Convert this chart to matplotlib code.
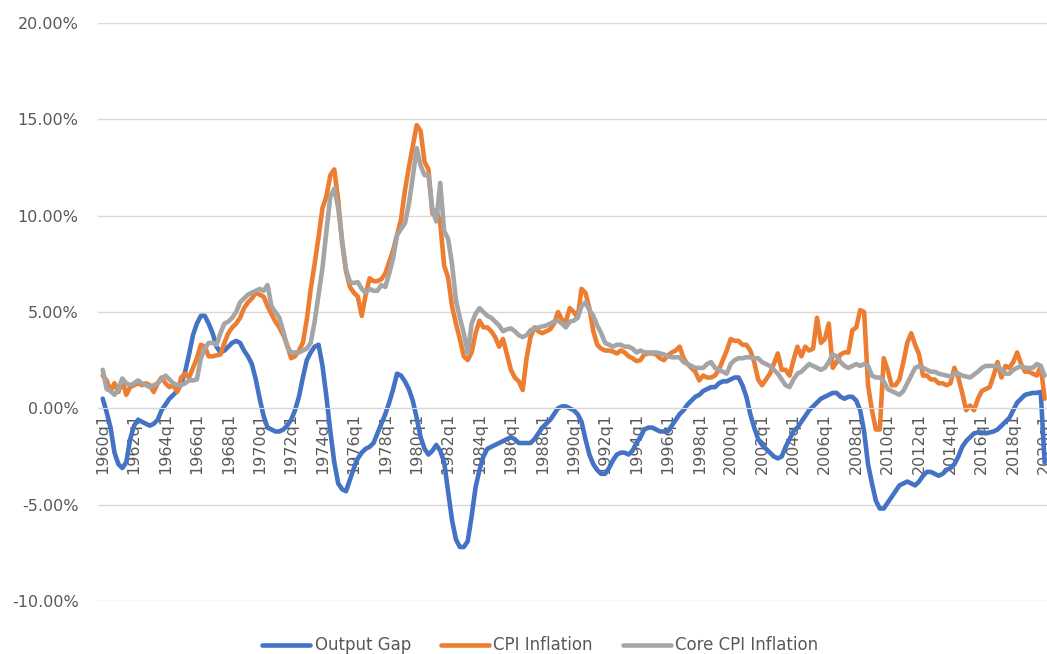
import numpy as np
import matplotlib.pyplot as plt
from matplotlib.ticker import FuncFormatter

# quarterly data, 1960q1 .. 2020q1 (percent)
output_gap = [
    0.5, -0.2, -1.0, -2.3,   -2.9, -3.1, -2.8, -1.6,   -0.9, -0.6, -0.7, -0.8,
    -0.9, -0.8, -0.6, -0.1,   0.2, 0.5, 0.7, 0.9,   1.3, 1.9, 2.8, 3.8,
    4.4, 4.8, 4.8, 4.4,   3.9, 3.2, 2.9, 3.0,   3.2, 3.4, 3.5, 3.4,
    3.0, 2.7, 2.3, 1.5,   0.5, -0.4, -1.0, -1.1,   -1.2, -1.2, -1.1, -0.9,
    -0.6, -0.1, 0.6, 1.6,   2.5, 2.9, 3.2, 3.3,   2.2, 0.6, -1.2, -2.8,
    -3.9, -4.2, -4.3, -3.7,   -3.1, -2.6, -2.3, -2.1,   -2.0, -1.8, -1.3, -0.8,
    -0.3, 0.3, 1.0, 1.8,   1.7, 1.4, 1.0, 0.4,   -0.5, -1.5, -2.1, -2.4,
    -2.2, -1.9, -2.2, -2.8,   -4.3, -5.8, -6.8, -7.2,   -7.2, -6.9, -5.6, -4.1,
    -3.2, -2.5, -2.1, -2.0,   -1.9, -1.8, -1.7, -1.6,   -1.5, -1.6, -1.8, -1.8,
    -1.8, -1.8, -1.6, -1.3,   -1.0, -0.8, -0.6, -0.3,   0.0, 0.1, 0.1, 0.0,
    -0.1, -0.3, -0.7, -1.6,   -2.4, -2.9, -3.2, -3.4,   -3.4, -3.1, -2.7, -2.4,
    -2.3, -2.3, -2.4, -2.2,   -1.8, -1.5, -1.1, -1.0,   -1.0, -1.1, -1.2, -1.2,
    -1.2, -0.9, -0.6, -0.3,   -0.1, 0.2, 0.4, 0.6,   0.7, 0.9, 1.0, 1.1,
    1.1, 1.3, 1.4, 1.4,   1.5, 1.6, 1.6, 1.2,   0.6, -0.3, -1.0, -1.6,
    -1.9, -2.1, -2.3, -2.5,   -2.6, -2.5, -2.0, -1.6,   -1.2, -1.0, -0.7, -0.4,
    -0.1, 0.1, 0.3, 0.5,   0.6, 0.7, 0.8, 0.8,   0.6, 0.5, 0.6, 0.6,
    0.4, -0.1, -1.2, -2.9,   -3.9, -4.8, -5.2, -5.2,   -4.9, -4.6, -4.3, -4.0,
    -3.9, -3.8, -3.9, -4.0,   -3.8, -3.5, -3.3, -3.3,   -3.4, -3.5, -3.4, -3.2,
    -3.1, -2.9, -2.5, -2.0,   -1.7, -1.5, -1.3, -1.25,   -1.25, -1.3, -1.25, -1.2,
    -1.1, -0.9, -0.7, -0.5,   -0.1, 0.3, 0.5, 0.7,   0.75, 0.8, 0.8, 0.85,
    -2.8,
]

cpi_inflation = [
    1.7, 1.45, 0.9, 1.3,   0.85, 1.45, 0.7, 1.1,   1.2, 1.3, 1.2, 1.3,
    1.2, 0.85, 1.3, 1.6,   1.3, 1.1, 1.2, 0.85,   1.6, 1.8, 1.6, 2.1,
    2.6, 3.3, 3.2, 2.7,   2.7, 2.75, 2.8, 3.4,   3.9, 4.2, 4.4, 4.7,
    5.2, 5.5, 5.7, 6.0,   5.9, 5.8, 5.3, 4.9,   4.5, 4.2, 3.8, 3.3,
    2.6, 2.7, 3.0, 3.4,   4.6, 6.2, 7.5, 8.9,   10.4, 11.0, 12.1, 12.4,
    10.8, 8.6, 7.1, 6.3,   6.0, 5.8, 4.8, 5.9,   6.75, 6.6, 6.6, 6.7,
    7.0, 7.6, 8.2, 9.0,   9.8, 11.3, 12.5, 13.6,   14.7, 14.4, 12.8, 12.4,
    10.1, 10.3, 9.6, 7.4,   6.8, 5.3, 4.4, 3.6,   2.7, 2.5, 2.9, 3.9,
    4.55, 4.2, 4.2, 4.0,   3.7, 3.2, 3.6, 2.8,   2.0, 1.6, 1.4, 0.95,
    2.6, 3.7, 4.2, 4.0,   3.9, 4.0, 4.1, 4.4,   5.0, 4.6, 4.5, 5.2,
    5.0, 4.7, 6.2, 6.0,   5.2, 4.0, 3.3, 3.1,   3.0, 3.0, 2.95, 2.85,
    3.0, 2.9, 2.7, 2.6,   2.45, 2.5, 2.8, 2.85,   2.85, 2.8, 2.6, 2.5,
    2.75, 2.9, 3.0, 3.2,   2.6, 2.3, 2.1, 1.9,   1.45, 1.7, 1.6, 1.6,
    1.7, 2.0, 2.5, 3.0,   3.6, 3.5, 3.5, 3.3,   3.3, 3.0, 2.4, 1.5,
    1.2, 1.5, 1.8, 2.3,   2.85, 2.0, 2.0, 1.7,   2.5, 3.2, 2.7, 3.2,
    3.0, 3.1, 4.7, 3.4,   3.6, 4.4, 2.1, 2.4,   2.8, 2.9, 2.9, 4.05,
    4.2, 5.1, 5.0, 1.2,   -0.1, -1.1, -1.1, 2.6,   2.0, 1.2, 1.2, 1.5,
    2.4, 3.4, 3.9, 3.3,   2.8, 1.7, 1.7, 1.5,   1.5, 1.3, 1.3, 1.2,
    1.3, 2.1, 1.6, 0.8,   -0.1, 0.15, -0.1, 0.5,   0.9, 1.0, 1.1, 1.7,
    2.4, 1.6, 2.2, 2.1,   2.4, 2.9, 2.3, 1.9,   1.9, 1.8, 1.7, 2.2,
    0.5,
]

core_cpi_inflation = [
    2.0, 1.0, 0.9, 0.7,   1.0, 1.55, 1.3, 1.2,   1.3, 1.45, 1.3, 1.2,
    1.1, 1.2, 1.3, 1.5,   1.7, 1.5, 1.3, 1.2,   1.2, 1.3, 1.45, 1.45,
    1.5, 2.6, 3.1, 3.4,   3.4, 3.3, 3.9, 4.4,   4.5, 4.7, 5.0, 5.5,
    5.7, 5.9, 6.0, 6.1,   6.2, 6.1, 6.4, 5.3,   5.0, 4.7, 4.0, 3.2,
    2.9, 2.9, 2.9, 3.0,   3.1, 3.4, 4.5, 5.9,   7.3, 9.2, 11.0, 11.4,
    10.4, 8.7, 7.2, 6.55,   6.5, 6.55, 6.2, 6.0,   6.2, 6.1, 6.1, 6.4,
    6.3, 7.0, 7.8, 9.0,   9.3, 9.6, 10.6, 12.0,   13.5, 12.6, 12.1, 12.1,
    10.3, 9.7, 11.7, 9.2,   8.8, 7.5, 5.6, 4.7,   3.9, 2.85, 4.4, 4.9,
    5.2, 5.0, 4.8, 4.7,   4.5, 4.3, 4.0, 4.1,   4.15, 4.0, 3.8, 3.7,
    3.8, 4.05, 4.15, 4.2,   4.25, 4.3, 4.4, 4.5,   4.55, 4.4, 4.2, 4.5,
    4.55, 4.7, 5.3, 5.5,   5.1, 4.8, 4.3, 3.9,   3.4, 3.3, 3.2, 3.3,
    3.3, 3.2, 3.2, 3.1,   2.9, 3.0, 2.9, 2.9,   2.9, 2.9, 2.85, 2.8,
    2.7, 2.65, 2.65, 2.65,   2.4, 2.3, 2.2, 2.1,   2.1, 2.1, 2.3, 2.4,
    2.1, 2.0, 1.9, 1.8,   2.3, 2.5, 2.6, 2.6,   2.65, 2.65, 2.6, 2.6,
    2.4, 2.3, 2.2, 2.0,   1.8, 1.5, 1.2, 1.1,   1.5, 1.8, 1.9, 2.1,
    2.3, 2.2, 2.1, 2.0,   2.1, 2.4, 2.8, 2.7,   2.4, 2.2, 2.1, 2.2,
    2.3, 2.2, 2.3, 2.2,   1.7, 1.6, 1.6, 1.4,   1.0, 0.9, 0.8, 0.7,
    0.9, 1.3, 1.7, 2.1,   2.2, 2.1, 2.0, 1.9,   1.9, 1.8, 1.75, 1.7,
    1.65, 1.8, 1.8, 1.7,   1.65, 1.6, 1.75, 1.9,   2.1, 2.2, 2.2, 2.2,
    2.2, 2.0, 1.8, 1.8,   2.0, 2.1, 2.2, 2.1,   2.1, 2.1, 2.3, 2.2,
    1.7,
]

quarters = ["{}q{}".format(1960 + k // 4, k % 4 + 1) for k in range(len(output_gap))]

TEXT = "#595959"
GRID = "#d9d9d9"

fig = plt.figure(figsize=(10.47, 6.54), dpi=100)
ax = fig.add_axes([98 / 1047, 53 / 654, 949 / 1047, 578 / 654])

# spine first: moving it resets the tick settings
for s in ["top", "right", "left"]:
    ax.spines[s].set_visible(False)
ax.spines["bottom"].set_position(("data", 0))
ax.spines["bottom"].set_color(GRID)

x = np.arange(len(quarters))
ax.plot(x, output_gap, color="#4472C4", lw=3.3, label="Output Gap", solid_capstyle="round")
ax.plot(x, cpi_inflation, color="#ED7D31", lw=3.3, label="CPI Inflation", solid_capstyle="round")
ax.plot(x, core_cpi_inflation, color="#A5A5A5", lw=3.3, label="Core CPI Inflation", solid_capstyle="round")

ax.set_ylim(-10, 20)
ax.set_yticks(np.arange(-10, 21, 5))
ax.yaxis.set_major_formatter(FuncFormatter(lambda v, p: "{:.2f}%".format(v)))
ax.grid(axis="y", color=GRID, lw=1)
ax.set_axisbelow(True)

ax.set_xlim(-1.2, 240.6)
ax.set_xticks(x[::8])
ax.set_xticklabels(quarters[::8])
ax.tick_params(axis="x", length=0, pad=3, labelsize=11.5, labelcolor=TEXT, labelrotation=90)
ax.tick_params(axis="y", length=0, pad=14, labelsize=11.5, labelcolor=TEXT)

fig.legend(loc="center", bbox_to_anchor=(0.516, 0.013), ncol=3, frameon=False,
           fontsize=12, handlelength=2.9, handletextpad=0.25, columnspacing=1.8,
           labelcolor=TEXT)

plt.savefig("out.png", dpi=100)
